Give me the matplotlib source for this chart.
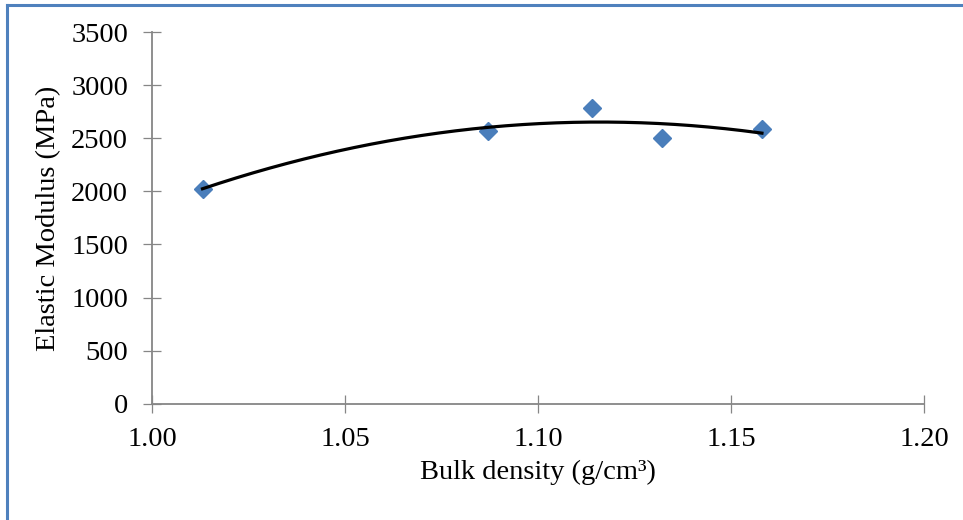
import matplotlib.pyplot as plt
import matplotlib.lines as mlines
import numpy as np

plt.rcParams["font.family"] = ["Liberation Serif", "DejaVu Serif"]

density = [1.013, 1.087, 1.114, 1.132, 1.158]
modulus = [2025, 2570, 2790, 2500, 2585]

x_ticks = [1.00, 1.05, 1.10, 1.15, 1.20]
y_ticks = [0, 500, 1000, 1500, 2000, 2500, 3000, 3500]

fig = plt.figure(figsize=(9.63, 5.2), dpi=100)
ax = fig.add_axes([0.1582, 0.2237, 0.8013, 0.7143])

# second order trendline across the measured range
coef = np.polyfit(density, modulus, 2)
xs = np.linspace(min(density), max(density), 200)
ax.plot(xs, np.polyval(coef, xs), color="black", lw=2.3, zorder=3)

ax.plot(density, modulus, linestyle="none", marker="D", markersize=9.5,
        color="#4a7ebb", markeredgecolor="#4a7ebb", zorder=2)

ax.set_xlim(1.00, 1.20)
ax.set_ylim(0, 3500)
ax.set_xticks(x_ticks)
ax.set_xticklabels([f"{t:.2f}" for t in x_ticks])
ax.set_yticks(y_ticks)

for side in ("top", "right"):
    ax.spines[side].set_visible(False)
for side in ("left", "bottom"):
    ax.spines[side].set_color("#868686")
    ax.spines[side].set_linewidth(1.3)

ax.tick_params(direction="inout", length=13, width=0.9, color="#868686",
               labelsize=20.5, labelcolor="black")
ax.tick_params(axis="x", pad=10)
ax.tick_params(axis="y", pad=11)

ax.set_xlabel("Bulk density (g/cm³)", fontsize=20.5, labelpad=6)
ax.set_ylabel("Elastic Modulus (MPa)", fontsize=20.5, labelpad=7)

# chart frame edges
fig.add_artist(mlines.Line2D([0.007, 1.0], [0.990, 0.990], color="#4f81bd",
                             lw=2.2, transform=fig.transFigure))
fig.add_artist(mlines.Line2D([0.007, 0.007], [0.0, 0.990], color="#4f81bd",
                             lw=2.2, transform=fig.transFigure))

fig.savefig("out.png", dpi=100)
